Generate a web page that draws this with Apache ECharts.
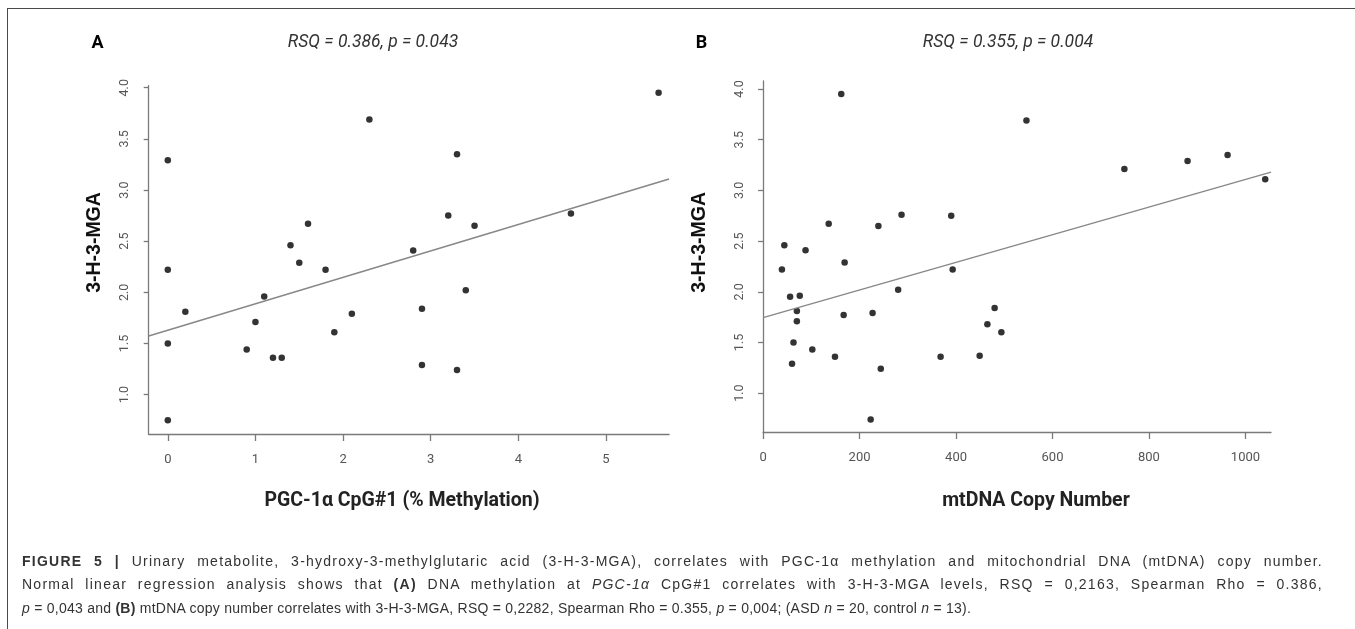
<!DOCTYPE html>
<html lang="en">
<head>
<meta charset="UTF-8">
<title>Figure 5</title>
<script src="https://cdn.jsdelivr.net/npm/echarts@6/dist/echarts.min.js"></script>
<style>
    body { margin: 0; background: #fff; }
    #wrap { position: relative; width: 1355px; height: 629px; overflow: hidden; }
    #main { position: absolute; left: 0; top: 0; width: 1355px; height: 629px; }
    /* outer frame: only top and left edges show */
    .frame {
        position: absolute; left: 7px; top: 8px; right: -10px; bottom: -10px;
        border-top: 1.5px solid #4a4a4a; border-left: 1.5px solid #4a4a4a;
    }
    .cap {
        position: absolute; left: 22px; width: 1301px;
        font: 14px 'Liberation Sans', Arial, sans-serif; color: #333;
        line-height: 20px; white-space: nowrap; letter-spacing: 0.25px;
    }
    .just { text-align: justify; text-align-last: justify; white-space: normal; letter-spacing: 1.25px; }
</style>
</head>
<body>
<div id="wrap">
    <div class="frame"></div>
    <div id="main"></div>
    <div class="cap just" style="top:551px"><b>FIGURE 5 |</b> Urinary metabolite, 3-hydroxy-3-methylglutaric acid (3-H-3-MGA), correlates with PGC-1α methylation and mitochondrial DNA (mtDNA) copy number.</div>
    <div class="cap just" style="top:574px">Normal linear regression analysis shows that <b>(A)</b> DNA methylation at <i>PGC-1α</i> CpG#1 correlates with 3-H-3-MGA levels, RSQ = 0,2163, Spearman Rho = 0.386,</div>
    <div class="cap" style="top:598px"><i>p</i> = 0,043 and <b>(B)</b> mtDNA copy number correlates with 3-H-3-MGA, RSQ = 0,2282, Spearman Rho = 0.355, <i>p</i> = 0,004; (ASD <i>n</i> = 20, control <i>n</i> = 13).</div>
</div>

<script>
    // panel A: PGC-1a CpG#1 methylation vs 3-H-3-MGA
    var pgcMethylation = [5.6, 2.3, 0, 3.3, 1.6, 3.2, 3.5, 4.6, 1.4, 1.5, 0, 1.8, 2.8, 1.1,
        0.2, 1.0, 2.1, 1.9, 3.4, 2.9, 0, 0.9, 1.2, 1.3, 2.9, 3.3, 0];
    var mgaA = [3.95, 3.69, 3.29, 3.35, 2.67, 2.75, 2.65, 2.77, 2.46, 2.29, 2.22, 2.22, 2.41, 1.96,
        1.81, 1.71, 1.79, 1.61, 2.02, 1.84, 1.50, 1.44, 1.36, 1.36, 1.29, 1.24, 0.75];
    var fitAX = [-0.218, 5.72];
    var fitAY = [1.573, 3.108];

    // panel B: mtDNA copy number vs 3-H-3-MGA
    var mtDNA = [162, 546, 749, 880, 963, 1041, 136, 239, 287, 390, 44, 88, 39, 169, 393, 280, 56,
        76, 70, 70, 227, 167, 480, 465, 494, 63, 102, 149, 368, 449, 60, 244, 223];
    var mgaB = [3.95, 3.69, 3.21, 3.29, 3.35, 3.11, 2.67, 2.65, 2.76, 2.75, 2.46, 2.41, 2.22, 2.29,
        2.22, 2.02, 1.95, 1.96, 1.81, 1.71, 1.79, 1.77, 1.84, 1.68, 1.60, 1.50, 1.43, 1.36, 1.36,
        1.37, 1.29, 1.24, 0.74];
    var fitBX = [0, 1053];
    var fitBY = [1.745, 3.18];

    var xTicksA = [0, 1, 2, 3, 4, 5];
    var xTicksB = [0, 200, 400, 600, 800, 1000];
    var yTicks = [1.0, 1.5, 2.0, 2.5, 3.0, 3.5, 4.0];

    var axisGray = '#7a7a7a';

    function pairs(xs, ys) {
        return xs.map(function (x, i) { return [x, ys[i]]; });
    }

    function xAxis(idx, min, max, ticks) {
        return {
            type: 'value', gridIndex: idx, min: min, max: max,
            axisLine: { show: true, onZero: false, lineStyle: { color: axisGray, width: 1.3 } },
            axisTick: { show: true, length: 7, customValues: ticks, lineStyle: { color: axisGray, width: 1.3 } },
            axisLabel: {
                customValues: ticks, color: '#555', fontFamily: 'Roboto', fontSize: 13, margin: 19,
                formatter: function (v) { return String(v); }
            },
            splitLine: { show: false }
        };
    }

    function yAxis(idx, min, max) {
        return {
            type: 'value', gridIndex: idx, min: min, max: max,
            axisLine: { show: true, onZero: false, lineStyle: { color: axisGray, width: 1.3 } },
            axisTick: { show: true, length: 5, customValues: yTicks, lineStyle: { color: axisGray, width: 1.3 } },
            axisLabel: {
                customValues: yTicks, rotate: 90, color: '#555', fontFamily: 'Roboto', fontSize: 12.5, margin: 17,
                formatter: function (v) { return v.toFixed(1); }
            },
            splitLine: { show: false }
        };
    }

    function label(text, x, y, font, fill, rot) {
        return {
            type: 'text', x: x, y: y, rotation: rot || 0, silent: true,
            style: { text: text, font: font, fill: fill, align: 'center', verticalAlign: 'middle' }
        };
    }

    var chart = echarts.init(document.getElementById('main'));

    chart.setOption({
        animation: false,
        grid: [
            { left: 148.7, top: 85.7, width: 520.4, height: 348.3 },
            { left: 763.1, top: 80.9, width: 507.9, height: 351.1 }
        ],
        xAxis: [xAxis(0, -0.218, 5.72, xTicksA), xAxis(1, 0, 1053, xTicksB)],
        yAxis: [yAxis(0, 0.615, 4.02), yAxis(1, 0.617, 4.08)],
        series: [
            {
                type: 'scatter', xAxisIndex: 0, yAxisIndex: 0, symbolSize: 6.5,
                itemStyle: { color: '#000' }, data: pairs(pgcMethylation, mgaA)
            },
            {
                type: 'line', xAxisIndex: 0, yAxisIndex: 0, symbol: 'none',
                lineStyle: { color: '#888', width: 1.5 }, data: pairs(fitAX, fitAY)
            },
            {
                type: 'scatter', xAxisIndex: 1, yAxisIndex: 1, symbolSize: 6.5,
                itemStyle: { color: '#000' }, data: pairs(mtDNA, mgaB)
            },
            {
                type: 'line', xAxisIndex: 1, yAxisIndex: 1, symbol: 'none',
                lineStyle: { color: '#888', width: 1.5 }, data: pairs(fitBX, fitBY)
            }
        ],
        graphic: [
            label('A', 97.6, 43, 'bold 18px Roboto', '#000'),
            label('B', 701.5, 43, 'bold 18px Roboto', '#000'),
            label('RSQ = 0.386, p = 0.043', 373, 43, 'italic 17.5px Roboto', '#333'),
            label('RSQ = 0.355, p = 0.004', 1008, 43, 'italic 17.5px Roboto', '#333'),
            label('3-H-3-MGA', 94.3, 242.5, 'bold 19.5px "Liberation Sans"', '#111', Math.PI / 2),
            label('3-H-3-MGA', 699.4, 242.4, 'bold 19.5px "Liberation Sans"', '#111', Math.PI / 2),
            label('PGC-1α CpG#1 (% Methylation)', 402, 500.7, 'bold 19.5px Roboto', '#222'),
            label('mtDNA Copy Number', 1036, 500.7, 'bold 19.5px Roboto', '#222')
        ]
    });
</script>
</body>
</html>
